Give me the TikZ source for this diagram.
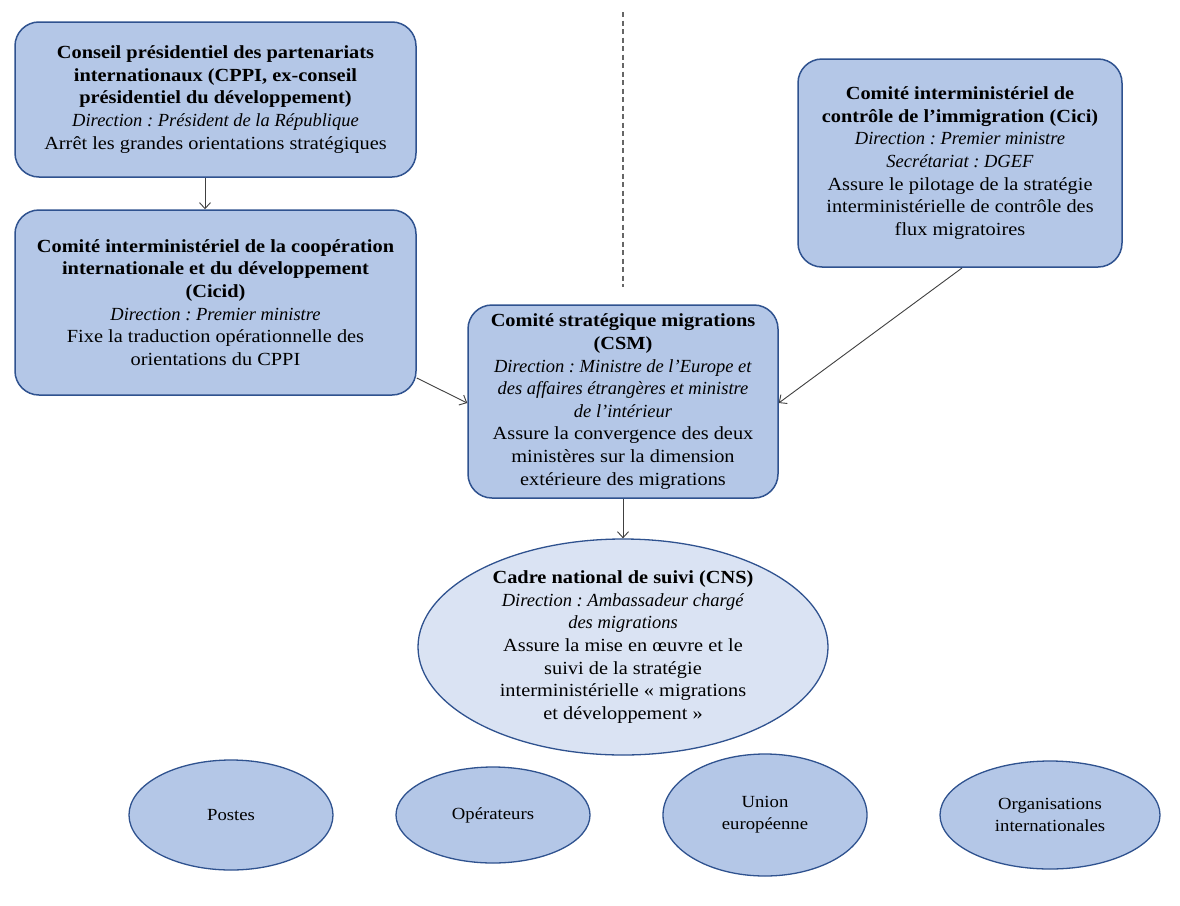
\documentclass[tikz,border=0pt]{standalone}
\usepackage{fontspec}
\setmainfont{Liberation Serif}[FakeStretch=1.1,ItalicFeatures={FakeStretch=1.0}]
\frenchspacing
\usetikzlibrary{shapes.geometric,arrows.meta}
\definecolor{boxfill}{HTML}{B4C7E7}
\definecolor{lightfill}{HTML}{DAE3F3}
\definecolor{boxline}{HTML}{2F528F}
\definecolor{conn}{HTML}{404040}
\tikzset{
  x=1pt,y=-1pt,
  bodyfont/.style={font=\fontsize{18.5}{22.6}\selectfont},
  rbox/.style={draw=boxline,fill=boxfill,line width=1.5pt,rounded corners=24pt,
    inner sep=0pt,align=center,bodyfont},
  bigell/.style={draw=boxline,fill=lightfill,line width=1.3pt,ellipse,inner sep=0pt},
  smallell/.style={draw=boxline,fill=boxfill,line width=1.3pt,ellipse,inner sep=0pt,
    align=center,font=\fontsize{17}{22}\selectfont},
  conn/.style={draw=conn,line width=0.9pt,-{Straight Barb[length=6pt,width=11pt]}},
  sep/.style={draw=conn!80,line width=1.2pt,dash pattern=on 5pt off 3.5pt}
}
\begin{document}
\begin{tikzpicture}
\useasboundingbox (0,0) rectangle (1180,905);
\fill[white] (0,0) rectangle (1180,905);

\coordinate (septop) at (623,12);
\coordinate (sepbot) at (623,287);
\draw[sep] (septop) -- (sepbot);

\node[rbox,minimum width=401,minimum height=155] (cppi) at (215.5,99.5)
{\textbf{Conseil présidentiel des partenariats}\\
\textbf{internationaux (CPPI, ex-conseil}\\
\textbf{présidentiel du développement)}\\
\textit{Direction : Président de la République}\\
Arrêt les grandes orientations stratégiques};

\node[rbox,minimum width=401,minimum height=185] (cicid) at (215.5,302.5)
{\textbf{Comité interministériel de la coopération}\\
\textbf{internationale et du développement}\\
\textbf{(Cicid)}\\
\textit{Direction : Premier ministre}\\
Fixe la traduction opérationnelle des\\
orientations du CPPI};

\node[rbox,minimum width=324,minimum height=208] (cici) at (960,163)
{\textbf{Comité interministériel de}\\
\textbf{contrôle de l’immigration (Cici)}\\
\textit{Direction : Premier ministre}\\
\textit{Secrétariat : DGEF}\\
Assure le pilotage de la stratégie\\
interministérielle de contrôle des\\
flux migratoires};

\node[rbox,minimum width=310,minimum height=193] (csm) at (623,401.5)
{\textbf{Comité stratégique migrations}\\
\textbf{(CSM)}\\
\textit{Direction : Ministre de l’Europe et}\\
\textit{des affaires étrangères et ministre}\\
\textit{de l’intérieur}\\
Assure la convergence des deux\\
ministères sur la dimension\\
extérieure des migrations};

\node[bigell,minimum width=410,minimum height=216] (cns) at (623,647) {};
\node[align=center,inner sep=0pt,bodyfont] (cnstext) at (623,647)
{\textbf{Cadre national de suivi (CNS)}\\
\textit{Direction : Ambassadeur chargé}\\
\textit{des migrations}\\
Assure la mise en œuvre et le\\
suivi de la stratégie\\
interministérielle « migrations\\
et développement »};

\node[smallell,minimum width=204,minimum height=110] (postes) at (231,815) {Postes};
\node[smallell,minimum width=194,minimum height=96] (operateurs) at (493,815) {Opérateurs};
\node[smallell,minimum width=204,minimum height=122] (ue) at (765,815) {Union\\européenne};
\node[smallell,minimum width=220,minimum height=108] (oi) at (1050,815) {Organisations\\internationales};

\draw[conn] (cppi.south -| 205,0) -- (cicid.north -| 205,0);
\draw[conn] (cicid.east |- 0,378) -- (csm.west |- 0,403);
\draw[conn] (962,268) -- (csm.east |- 0,403);
\draw[conn] (csm.south) -- (cns.north);
\end{tikzpicture}
\end{document}
